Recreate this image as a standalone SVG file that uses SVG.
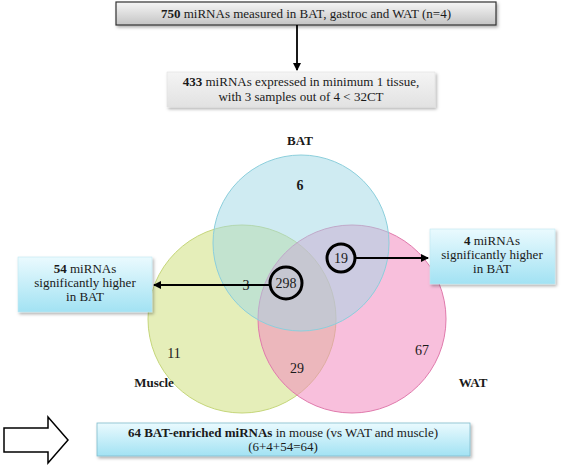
<svg xmlns="http://www.w3.org/2000/svg" width="567" height="469" viewBox="0 0 567 469">
<defs>
<linearGradient id="gTop" x1="0" y1="0" x2="0" y2="1"><stop offset="0" stop-color="#f6f6f6"/><stop offset="1" stop-color="#c4c4c4"/></linearGradient>
<linearGradient id="gGrey" x1="0" y1="0" x2="0" y2="1"><stop offset="0" stop-color="#f4f4f4"/><stop offset="1" stop-color="#e2e2e2"/></linearGradient>
<linearGradient id="gBlue" x1="0" y1="0" x2="0" y2="1"><stop offset="0" stop-color="#eafafe"/><stop offset="1" stop-color="#a2e2f3"/></linearGradient>
<filter id="sh" x="-10%" y="-20%" width="130%" height="160%"><feDropShadow dx="1.5" dy="2" stdDeviation="1.5" flood-color="#000" flood-opacity="0.3"/></filter>
<marker id="ah" markerWidth="8" markerHeight="8" refX="7" refY="4" orient="auto" markerUnits="userSpaceOnUse"><path d="M0,0 L8,4 L0,8 Z" fill="#000"/></marker>
</defs>
<style>
text{font-family:"Liberation Serif","Times New Roman",serif;font-size:13px;fill:#1a1a1a;text-anchor:middle}
.b{font-weight:bold}
.n{font-size:14px}
.conn{stroke:#000;stroke-width:1.8;fill:none}
.ring{stroke:#000;stroke-width:3;fill:none}
</style>
<g id="venn">
<circle cx="242" cy="319" r="94" fill="#d4e38a" fill-opacity="0.6" stroke="#c5d67a" stroke-width="1"/>
<circle cx="352" cy="319" r="94" fill="#f28ac0" fill-opacity="0.55" stroke="#e07aac" stroke-width="1"/>
<circle cx="301" cy="243" r="88" fill="#9fd8e6" fill-opacity="0.5" stroke="#8ccfdc" stroke-width="1"/>
</g>
<g id="box-750">
<rect x="116" y="2" width="380" height="23" fill="url(#gTop)" stroke="#333" stroke-width="1.2" filter="url(#sh)"/>
<text x="306" y="18"><tspan class="b">750</tspan> miRNAs measured in BAT, gastroc and WAT (n=4)</text>
</g>
<g id="box-433">
<rect x="167" y="72" width="268" height="35" fill="url(#gGrey)" stroke="#e0e0e0" stroke-width="0.6" filter="url(#sh)"/>
<text x="301" y="86"><tspan class="b">433</tspan> miRNAs expressed in minimum 1 tissue,</text>
<text x="301" y="101">with 3 samples out of 4 &lt; 32CT</text>
</g>
<g id="labels">
<text class="b" x="300" y="145">BAT</text>
<text class="b" x="154" y="387">Muscle</text>
<text class="b" x="473" y="387">WAT</text>
<text class="n b" x="300" y="190">6</text>
<text class="n" x="246" y="290">3</text>
<text class="n" x="286" y="288">298</text>
<text class="n" x="341" y="263">19</text>
<text class="n" x="174" y="358">11</text>
<text class="n" x="297" y="373">29</text>
<text class="n" x="422" y="355">67</text>
</g>
<g id="box-54">
<rect x="18" y="257" width="134" height="55" fill="url(#gBlue)" stroke="#bfe8f2" stroke-width="0.6" filter="url(#sh)"/>
<text x="85" y="273"><tspan class="b">54</tspan> miRNAs</text>
<text x="85" y="287">significantly higher</text>
<text x="85" y="301">in BAT</text>
</g>
<g id="box-4">
<rect x="430" y="229" width="125" height="55" fill="url(#gBlue)" stroke="#bfe8f2" stroke-width="0.6" filter="url(#sh)"/>
<text x="492" y="245"><tspan class="b">4</tspan> miRNAs</text>
<text x="492" y="259">significantly higher</text>
<text x="492" y="273">in BAT</text>
</g>
<g id="box-64">
<rect x="97" y="423" width="373" height="33" fill="url(#gBlue)" stroke="#7fbccc" stroke-width="0.8" filter="url(#sh)"/>
<text x="283" y="437"><tspan class="b">64 BAT-enriched miRNAs</tspan> in mouse (vs WAT and muscle)</text>
<text x="283" y="451">(6+4+54=64)</text>
</g>
<g id="big-arrow">
<path d="M4,428 H48 V417 L68,440 L48,463 V452 H4 Z" fill="#fff" stroke="#000" stroke-width="1.5" stroke-linejoin="miter"/>
</g>
<g id="connectors">
<line class="conn" x1="297" y1="25" x2="297" y2="70" marker-end="url(#ah)"/>
<circle class="ring" cx="341" cy="258" r="14"/>
<circle class="ring" cx="286" cy="283" r="16"/>
<line class="conn" x1="355" y1="258" x2="428" y2="258" marker-end="url(#ah)"/>
<line class="conn" x1="270" y1="285" x2="154" y2="285" marker-end="url(#ah)"/>
</g>
</svg>
